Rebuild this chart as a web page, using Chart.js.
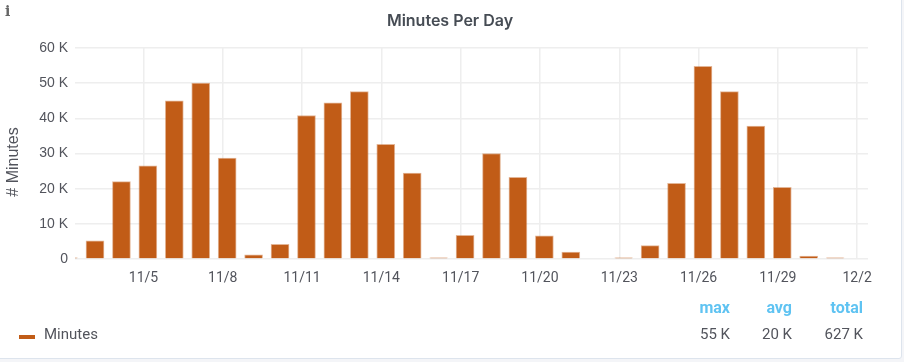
<!DOCTYPE html>
<html lang="en">
<head>
    <meta charset="UTF-8">
    <title>Minutes Per Day</title>
    <style>
        html, body { margin: 0; padding: 0; background-color: #f4f5f8; }
        body { width: 904px; height: 362px; overflow: hidden; position: relative; font-family: Roboto, sans-serif; color: #52545c; }
        .panel { position: absolute; left: -3px; top: -3px; width: 903px; height: 360px; background-color: #fff; border: 1px solid #dde4ed; border-radius: 3px; }
        canvas { position: absolute; left: 0; top: 0; }
        .info { position: absolute; left: 5px; top: 3px; font: bold 14px "DejaVu Serif", serif; color: #666; }
        .title { position: absolute; left: 0; width: 900px; top: 10px; text-align: center; font-family: Inter, sans-serif; font-size: 16px; font-weight: 600; color: #464c54; }
        .ytitle { position: absolute; left: 13px; top: 162px; transform: translate(-50%, -50%) rotate(-90deg); white-space: nowrap; font-family: "Liberation Sans", sans-serif; font-size: 16px; }
        .swatch { position: absolute; left: 19px; top: 335px; width: 16px; height: 4px; background-color: #c15c17; }
        .name { position: absolute; left: 44px; top: 325px; font-size: 15px; }
        .stat { position: absolute; font-size: 15px; text-align: right; width: 60px; }
        .head { font-weight: bold; font-size: 16px; color: #5fc3f2; }
    </style>
    <script src="https://cdn.jsdelivr.net/npm/chart.js"></script>
</head>
<body>
    <div class="panel"></div>
    <canvas id="minutesChart" width="904" height="362"></canvas>
    <div class="info">i</div>
    <div class="title">Minutes Per Day</div>
    <div class="ytitle"># Minutes</div>
    <div class="swatch"></div>
    <div class="name">Minutes</div>
    <div id="stats"></div>
    <script>
        // days are counted from Nov 0, so 32 is 12/2
        const days = [2, 3, 4, 5, 6, 7, 8, 9, 10, 11, 12, 13, 14, 15, 16, 17, 18, 19, 20, 21, 22, 23, 24, 25, 26, 27, 28, 29, 30, 31];
        const minutes = [300, 5200, 22000, 26500, 45000, 50000, 28700, 1200, 4200, 40800, 44400, 47600, 32600, 24400, 350, 6700, 30000, 23200, 6600, 2000, 0, 300, 3800, 21500, 54800, 47600, 37800, 20400, 800, 350];
        const tickDays = [5, 8, 11, 14, 17, 20, 23, 26, 29, 32];
        const tickLabels = ['11/5', '11/8', '11/11', '11/14', '11/17', '11/20', '11/23', '11/26', '11/29', '12/2'];
        const statNames = ['max', 'avg', 'total'];
        const statValues = ['55 K', '20 K', '627 K'];

        const gridColor = '#eeeeee';

        // the bars sit 4 hours after the day tick (timezone)
        const points = days.map((d, i) => ({ x: d + 4 / 24, y: minutes[i] }));

        new Chart(document.getElementById('minutesChart').getContext('2d'), {
            type: 'bar',
            data: {
                datasets: [{
                    label: 'Minutes',
                    data: points,
                    backgroundColor: '#c15c17',
                    borderColor: 'rgba(193, 92, 23, 0.45)',
                    borderWidth: 1,
                    barThickness: 18
                }]
            },
            options: {
                responsive: false,
                animation: false,
                layout: { padding: { top: 48, right: 36, bottom: 0, left: 0 } },
                plugins: { legend: { display: false }, tooltip: { enabled: false } },
                scales: {
                    x: {
                        type: 'linear',
                        offset: false,
                        min: 2.41,
                        max: 32.41,
                        afterBuildTicks: scale => { scale.ticks = tickDays.map(v => ({ value: v })); },
                        afterFit: scale => { scale.height = 103; },
                        grid: { color: gridColor, lineWidth: 1.5, drawTicks: false, offset: false },
                        border: { display: false },
                        ticks: {
                            padding: 11,
                            color: '#52545c',
                            font: { family: 'Roboto', size: 14 },
                            maxRotation: 0,
                            autoSkip: false,
                            callback: value => tickLabels[tickDays.indexOf(value)]
                        }
                    },
                    y: {
                        min: 0,
                        max: 60000,
                        afterFit: scale => { scale.width = 75; },
                        grid: { color: gridColor, lineWidth: 1.5, drawTicks: false },
                        border: { display: false },
                        ticks: {
                            stepSize: 10000,
                            padding: 7,
                            color: '#52545c',
                            font: { family: 'Liberation Sans', size: 14 },
                            callback: value => value === 0 ? '0' : (value / 1000) + ' K'
                        }
                    }
                }
            }
        });

        const statRight = [730, 792, 863];
        const statsBox = document.getElementById('stats');
        statNames.forEach((name, i) => {
            statsBox.innerHTML += `<div class="stat head" style="left:${statRight[i] - 60}px;top:298px">${name}</div>`;
            statsBox.innerHTML += `<div class="stat" style="left:${statRight[i] - 60}px;top:325px">${statValues[i]}</div>`;
        });
    </script>
</body>
</html>
